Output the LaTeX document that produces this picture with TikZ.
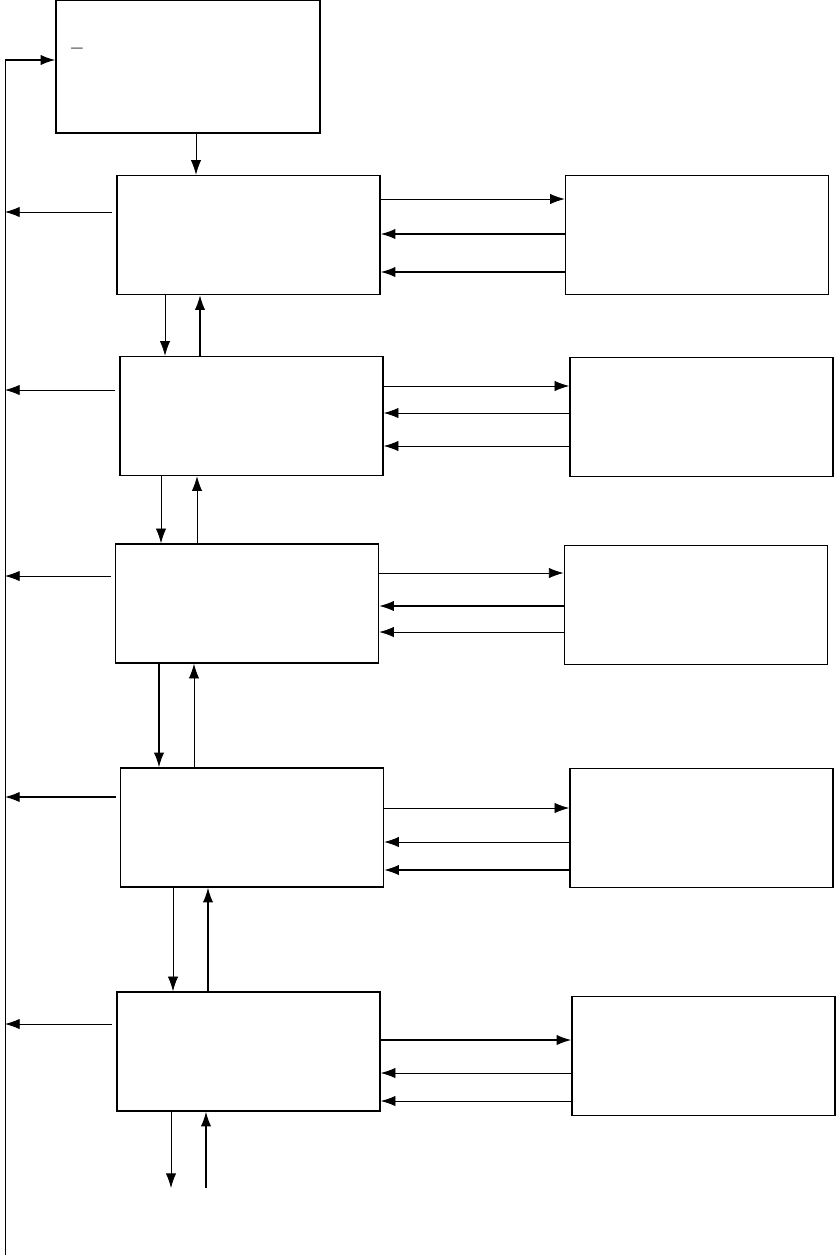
\documentclass[tikz,border=0pt]{standalone}
\usepackage{fontspec}
\setmainfont{Liberation Sans}
\usetikzlibrary{arrows.meta,positioning,calc}
\tikzset{
  blk/.style={
    draw=black, line width=1.3pt, fill=white,
    minimum width=78.9mm, minimum height=35.7mm,
    inner sep=0pt, align=center
  },
  arrow/.style={-{Latex[length=4.4mm,width=3.1mm]}, line width=1.1pt, draw=black},
  thinarr/.style={-{Latex[length=4.4mm,width=3.1mm]}, line width=0.7pt, draw=black}
}
\begin{document}
\begin{tikzpicture}[x=0.3mm,y=-0.3mm]
  \useasboundingbox (0,0) rectangle (836,1255);
  % top block and the spine on the left
  \node[blk, minimum width=79.2mm, minimum height=39.9mm] (top) at (188,66.5) {};
  \node[anchor=base, font=\LARGE\bfseries, inner sep=0pt] (mark) at (77,46) {\_};
  \coordinate (spine) at (5,60);
  \coordinate (spineend) at (5,1255);
  \draw[line width=0.8pt] (spineend) -- (spine);
  \draw[arrow] (spine) -- (top.west |- spine);
  % left column
  \node[blk] (l1) at (248.5,235) {};
  \node[blk] (l2) at (251.5,416) {};
  \node[blk] (l3) at (247,603.5) {};
  \node[blk] (l4) at (252,827.5) {};
  \node[blk] (l5) at (248.5,1051.5) {};
  % right column
  \node[blk] (r1) at (697,235) {};
  \node[blk] (r2) at (701.5,417) {};
  \node[blk, line width=0.8pt] (r3) at (695.5,605) {};
  \node[blk] (r4) at (701.5,828) {};
  \node[blk] (r5) at (703.5,1056) {};
  \coordinate (out1) at (171,1188);
  \coordinate (in1) at (206,1188);
  % vertical flow
  \draw[thinarr] (top.south -| 196,0) -- (l1.north -| 196,0);
  \draw[thinarr] (l1.south -| 165,0) -- (l2.north -| 165,0);
  \draw[arrow] (l2.north -| 200,0) -- (l1.south -| 200,0);
  \draw[thinarr] (l2.south -| 161,0) -- (l3.north -| 161,0);
  \draw[thinarr] (l3.north -| 197,0) -- (l2.south -| 197,0);
  \draw[arrow] (l3.south -| 159,0) -- (l4.north -| 159,0);
  \draw[thinarr] (l4.north -| 194,0) -- (l3.south -| 194,0);
  \draw[thinarr] (l4.south -| 173,0) -- (l5.north -| 173,0);
  \draw[arrow] (l5.north -| 208,0) -- (l4.south -| 208,0);
  \draw[thinarr] (l5.south -| out1) -- (out1);
  \draw[arrow] (in1) -- (l5.south -| in1);
  % into the spine
  \draw[thinarr, shorten <=1.2mm] (l1.west |- 0,212) -- (spine |- 0,212);
  \draw[thinarr, shorten <=1.2mm] (l2.west |- 0,390) -- (spine |- 0,390);
  \draw[thinarr, shorten <=1.2mm] (l3.west |- 0,576) -- (spine |- 0,576);
  \draw[arrow, shorten <=1.2mm] (l4.west |- 0,797) -- (spine |- 0,797);
  \draw[thinarr, shorten <=1.2mm] (l5.west |- 0,1024) -- (spine |- 0,1024);
  % side exchanges
  \draw[thinarr] (l1.east |- 0,199) -- (r1.west |- 0,199);
  \draw[arrow] (r1.west |- 0,234) -- (l1.east |- 0,234);
  \draw[arrow] (r1.west |- 0,272) -- (l1.east |- 0,272);
  \draw[thinarr] (l2.east |- 0,386) -- (r2.west |- 0,386);
  \draw[thinarr] (r2.west |- 0,413) -- (l2.east |- 0,413);
  \draw[thinarr] (r2.west |- 0,446) -- (l2.east |- 0,446);
  \draw[thinarr] (l3.east |- 0,573) -- (r3.west |- 0,573);
  \draw[arrow] (r3.west |- 0,606) -- (l3.east |- 0,606);
  \draw[thinarr] (r3.west |- 0,632) -- (l3.east |- 0,632);
  \draw[thinarr] (l4.east |- 0,808) -- (r4.west |- 0,808);
  \draw[thinarr] (r4.west |- 0,842) -- (l4.east |- 0,842);
  \draw[arrow] (r4.west |- 0,870) -- (l4.east |- 0,870);
  \draw[arrow] (l5.east |- 0,1040) -- (r5.west |- 0,1040);
  \draw[thinarr] (r5.west |- 0,1073) -- (l5.east |- 0,1073);
  \draw[thinarr] (r5.west |- 0,1101) -- (l5.east |- 0,1101);
\end{tikzpicture}
\end{document}
